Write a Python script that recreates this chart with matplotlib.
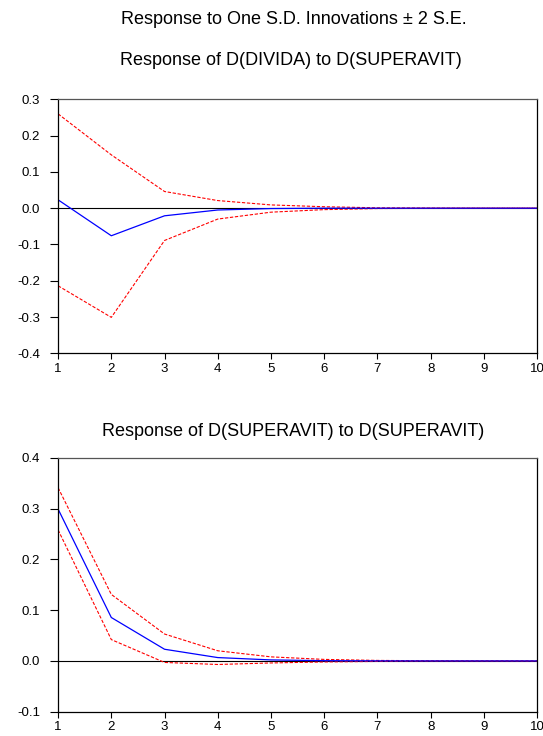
import numpy as np
import matplotlib.pyplot as plt

plt.rcParams['font.family'] = ['Liberation Sans', 'DejaVu Sans']

periods = np.arange(1, 11)

# Response of D(DIVIDA) to D(SUPERAVIT)
div_resp = [0.023, -0.076, -0.021, -0.005, -0.001, 0.0, 0.0, 0.0, 0.0, 0.0]
div_upper = [0.260, 0.147, 0.046, 0.021, 0.009, 0.004, 0.001, 0.0005, 0.0002, 0.0001]
div_lower = [-0.214, -0.301, -0.089, -0.030, -0.011, -0.004, -0.001, -0.0005, -0.0002, -0.0001]

# Response of D(SUPERAVIT) to D(SUPERAVIT)
sup_resp = [0.299, 0.0855, 0.023, 0.0066, 0.002, 0.0005, 0.0001, 0.0, 0.0, 0.0]
sup_upper = [0.341, 0.131, 0.053, 0.020, 0.008, 0.003, 0.001, 0.0004, 0.0001, 0.0]
sup_lower = [0.258, 0.042, -0.003, -0.007, -0.004, -0.002, -0.001, -0.0003, -0.0001, 0.0]

fig = plt.figure(figsize=(5.43, 7.36), dpi=100)
fig.text(0.541, 0.974, 'Response to One S.D. Innovations \u00b1 2 S.E.',
         ha='center', va='center', fontsize=13)

def panel(rect, title, pad, tx, resp, upper, lower, ylim, yticks):
    ax = fig.add_axes(rect)
    ax.axhline(0, color='black', lw=0.8)
    ax.plot(periods, upper, color='red', ls=(0, (3, 1.5)), lw=0.8)
    ax.plot(periods, lower, color='red', ls=(0, (3, 1.5)), lw=0.8)
    ax.plot(periods, resp, color='blue', lw=0.9)
    ax.set_xlim(1, 10)
    ax.set_ylim(*ylim)
    ax.set_xticks(periods)
    ax.set_yticks(yticks)
    ax.set_yticklabels(['%.1f' % (round(v, 1) + 0.0) for v in yticks])
    ax.tick_params(direction='out', labelsize=9.5, width=0.8)
    ax.tick_params(axis='y', length=6, pad=7)
    ax.tick_params(axis='x', length=4, pad=3)
    for s in ax.spines.values():
        s.set_linewidth(0.9)
    ax.spines['top'].set_color('#555555')
    ax.set_title(title, fontsize=13, pad=pad, x=tx)
    return ax

panel([0.107, 0.520, 0.882, 0.345], 'Response of D(DIVIDA) to D(SUPERAVIT)', 25, 0.486,
      div_resp, div_upper, div_lower, (-0.4, 0.3), np.arange(-0.4, 0.31, 0.1))
panel([0.107, 0.033, 0.882, 0.345], 'Response of D(SUPERAVIT) to D(SUPERAVIT)', 16, 0.49,
      sup_resp, sup_upper, sup_lower, (-0.1, 0.4), np.arange(-0.1, 0.41, 0.1))

fig.savefig('out.png', dpi=100)
